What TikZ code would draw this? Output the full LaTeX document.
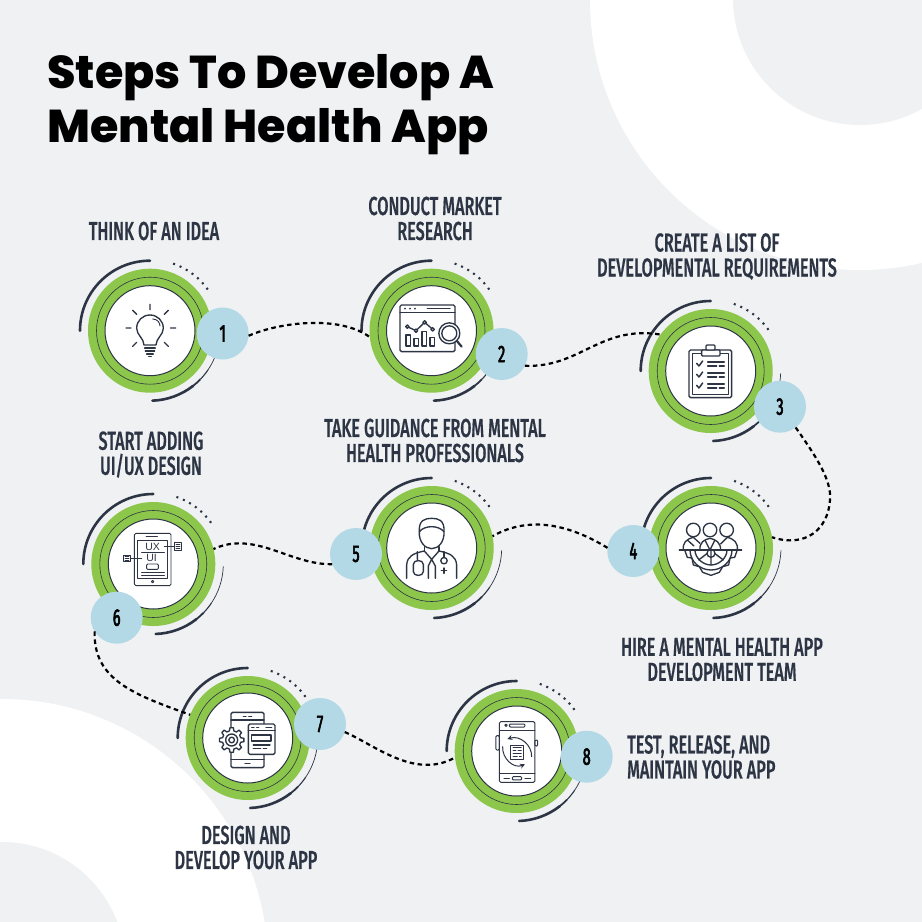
\documentclass[tikz,border=0pt]{standalone}
\usepackage{fontspec}
\usetikzlibrary{arrows.meta}
\setmainfont{Liberation Sans}
\newfontfamily\titlef{Poppins ExtraBold}
\newfontfamily\labf[FakeStretch=0.625,FakeBold=0.5]{Fira Sans Medium}
\newfontfamily\numf[FakeStretch=0.6,FakeBold=2.5]{Fira Sans}
\definecolor{bgc}{HTML}{EFF1F3}
\definecolor{grn}{HTML}{8CC64B}
\definecolor{blu}{HTML}{B3D9E6}
\definecolor{drk}{HTML}{2D3545}
\tikzset{
 greendisc/.style={circle,fill=grn,minimum size=124pt,inner sep=0pt,outer sep=0pt},
 thinring/.style={circle,draw=drk,line width=.6pt,minimum size=107pt,inner sep=0pt,outer sep=0pt},
 whitedisc/.style={circle,fill=white,draw=drk,line width=1pt,minimum size=90pt,inner sep=0pt,outer sep=0pt},
 badge/.style={circle,fill=blu,minimum size=52pt,inner sep=0pt,outer sep=0pt,font=\numf\fontsize{24}{24}\selectfont,text=black},
 conn/.style={line width=2.2pt,black,dash pattern=on 4.5pt off 3.5pt},
 dotarc/.style={line width=2.1pt,drk,dash pattern=on 2pt off 5pt},
 arcline/.style={drk,line cap=round},
 lab/.style={font=\labf\fontsize{26}{25}\selectfont,text=drk,align=center,inner sep=0pt},
 ico/.style={draw=drk,line width=1.35pt,line join=round,line cap=round},
 zoomed/.style={shift={#1},x=.3333pt,y=-.3333pt},
}
\newcommand{\ringset}[3]{%
 \begin{scope}[shift={(#2,#3)}]
  \draw[arcline,line width=2.6pt] (180:70pt) arc[start angle=180,end angle=90,radius=70pt];
  \draw[dotarc] (71:71pt) arc[start angle=71,end angle=34,radius=71pt];
  \draw[arcline,line width=2.6pt] (-88:70pt) arc[start angle=-88,end angle=-52,radius=70pt];
  \draw[drk,line width=1.8pt] (-52:70pt) arc[start angle=-52,end angle=-44,radius=70pt];
  \draw[drk,line width=1.1pt] (-44:70pt) arc[start angle=-44,end angle=-34,radius=70pt];
  \draw[drk,line width=.7pt] (-34:70pt) arc[start angle=-34,end angle=-2,radius=70pt];
 \end{scope}
 \node[greendisc] (c#1) at (#2,#3) {};
 \node[thinring] (r#1) at (#2,#3) {};
 \node[whitedisc] (w#1) at (#2,#3) {};
}
\begin{document}
\begin{tikzpicture}[x=1pt,y=-1pt]
\useasboundingbox (0,0) rectangle (922,922);
\fill[bgc] (0,0) rectangle (922,922);
\begin{scope}
 \clip (0,0) rectangle (922,922);
 \fill[white] (860,0) circle[radius=270pt];
 \fill[bgc] (860,-2) circle[radius=127pt];
 \fill[white] (2,965) circle[radius=266pt];
 \fill[bgc] (2,965) circle[radius=123pt];
\end{scope}

\node[anchor=base west,inner sep=0pt,font=\titlef\fontsize{46}{46}\selectfont,text=black] (title1) at (47,88) {Steps To Develop A};
\node[anchor=base west,inner sep=0pt,font=\titlef\fontsize{46}{46}\selectfont,text=black] (title2) at (47,142) {Mental Health App};

\ringset{1}{150}{330.7}
\ringset{2}{431.5}{330.7}
\ringset{3}{710.7}{371}
\ringset{4}{711}{548}
\ringset{5}{431.7}{548}
\ringset{6}{153.3}{564}
\ringset{7}{247.7}{738}
\ringset{8}{516.7}{751}

% icon 1
\begin{scope}[zoomed={(70,250)}]
 \draw[ico] (222,285) .. controls (222,265) and (200,255) .. (200,235) .. controls (200,212) and (218,195) .. (240,195) .. controls (262,195) and (280,212) .. (280,235) .. controls (280,255) and (258,265) .. (258,285) -- cycle;
 \draw[ico,line width=.9pt] (248,207) .. controls (262,207) and (270,218) .. (270,228);
 \draw[ico] (224,294)--(256,294) (226,303)--(254,303) (230,312)--(250,312) (236,320)--(244,320);
 \draw[ico] (240,163)--(240,179) (168,234)--(183,234) (302,234)--(317,234) (188,181)--(200,193) (295,181)--(283,193) (188,289)--(200,277) (295,289)--(283,277);
\end{scope}
% icon 2
\begin{scope}[zoomed={(350,250)}]
 \draw[ico,rounded corners=1.5pt] (150,165) rectangle (315,305);
 \draw[ico] (150,187)--(315,187) (232,176)--(300,176);
 \fill[drk] (165,176) circle[radius=1pt] (180,176) circle[radius=1pt] (195,176) circle[radius=1pt];
 \draw[ico] (172,230)--(198,242)--(224,217)--(248,238);
 \foreach \px/\py in {172/230,198/242,224/217,248/238}{\filldraw[ico,fill=white] (\px,\py) circle[radius=1.7pt];}
 \draw[ico] (168,255) rectangle (182,288) (192,265) rectangle (206,288) (216,245) rectangle (230,288) (240,262) rectangle (254,288);
 \filldraw[ico,fill=white] (298,250) circle[radius=10.5pt];
 \draw[ico] (298,250) circle[radius=7.5pt];
 \draw[ico,line width=2.2pt] (320,272)--(335,290);
\end{scope}
% icon 3
\begin{scope}[zoomed={(630,290)}]
 \draw[ico,rounded corners=1.5pt] (177,180) rectangle (305,323);
 \draw[ico] (187,190) rectangle (295,313);
 \filldraw[ico,fill=white,rounded corners=1pt] (215,198) rectangle (270,180);
 \filldraw[ico,fill=white,rounded corners=1pt] (228,180) rectangle (255,165);
 \foreach \ly in {0,33,66}{
  \draw[ico,line width=1.5pt] (200,{220+\ly})--(207,{228+\ly})--(218,{213+\ly});
  \draw[ico] (233,{216+\ly})--(283,{216+\ly}) (233,{228+\ly})--(260,{228+\ly}) (268,{228+\ly})--(283,{228+\ly});
 }
\end{scope}
% icon 4
\begin{scope}[zoomed={(600,470)}]
 \draw[ico] (254,240)--(262,262)--(276,264)--(280,285)--(298,290)--(308,307)--(333,316)--(358,307)--(368,290)--(386,285)--(390,264)--(404,262)--(412,240);
 \draw[ico] (285,240) .. controls (285,265) and (310,285) .. (333,285) .. controls (356,285) and (381,265) .. (381,240);
 \draw[ico] (270,240) .. controls (270,275) and (300,300) .. (333,300) .. controls (366,300) and (396,275) .. (396,240);
 \draw[ico] (333,240)--(333,285) (296,270)--(322,250) (370,270)--(344,250);
 \draw[ico] (333,250) circle[radius=4pt];
 \draw[ico] (280,180) circle[radius=6.8pt] (330,180) circle[radius=6.8pt] (380,180) circle[radius=6.8pt];
 \draw[ico] (250,240) .. controls (248,218) and (258,208) .. (280,202) (280,202)--(300,220) (262,210)--(282,228);
 \draw[ico] (300,240) .. controls (298,218) and (312,208) .. (330,205) .. controls (348,208) and (362,218) .. (362,240) (315,210)--(330,240)--(345,210);
 \draw[ico] (412,240) .. controls (414,218) and (404,208) .. (382,202) (382,202)--(362,222);
 \draw[ico] (238,240)--(425,240);
\end{scope}
% icon 5
\begin{scope}[zoomed={(330,470)}]
 \draw[ico] (268,185) .. controls (266,150) and (285,145) .. (305,145) .. controls (325,145) and (344,150) .. (342,185) .. controls (344,215) and (325,236) .. (305,236) .. controls (285,236) and (266,215) .. (268,185) -- cycle;
 \draw[ico] (268,185) .. controls (285,165) and (325,165) .. (342,185);
 \draw[ico] (283,230)--(283,243) (327,230)--(327,243);
 \draw[ico] (230,325)--(230,285) .. controls (232,258) and (250,250) .. (283,243) -- (305,268) -- (327,243) .. controls (360,250) and (378,258) .. (380,285) -- (380,325);
 \draw[ico] (262,245)--(262,268) (250,283) -- (250,305) .. controls (250,320) and (280,320) .. (280,305) -- (280,283) .. controls (280,268) and (250,268) .. (250,283);
 \draw[ico] (295,325)--(295,288)--(305,268)--(316,288)--(316,325);
 \draw[ico] (342,245)--(342,262);
 \draw[ico] (342,272) circle[radius=3.2pt];
 \draw[ico] (342,294)--(342,310) (334,302)--(350,302);
\end{scope}
% icon 6
\begin{scope}[zoomed={(70,490)}]
 \draw[ico,line width=.9pt,rounded corners=1.5pt] (193,130) rectangle (303,287);
 \draw[ico,line width=.9pt] (203,152) rectangle (293,265);
 \draw[ico,line width=.9pt] (228,140)--(262,140);
 \draw[ico,line width=.9pt] (248,275) circle[radius=1.2pt];
 \node[inner sep=0pt,text=drk,font=\fontsize{10.5}{10.5}\selectfont] (ux) at (248,170) {UX};
 \node[inner sep=0pt,text=drk,font=\fontsize{10.5}{10.5}\selectfont] (ui) at (245,205) {UI};
 \draw[ico,line width=.9pt] (215,187)--(283,187) (215,247)--(283,247) (215,255)--(283,255);
 \draw[ico,line width=.9pt,rounded corners=1pt] (230,222) rectangle (265,238);
 \draw[ico,line width=.9pt] (283,170)--(313,170) (182,205)--(215,205);
 \draw[ico,line width=.9pt] (313,158) rectangle (335,180) (160,195) rectangle (182,215);
 \draw[ico,line width=.6pt] (318,164)--(330,164) (318,169)--(330,169) (318,174)--(330,174) (165,200)--(177,200) (165,205)--(177,205) (165,210)--(177,210);
\end{scope}
% icon 7
\begin{scope}[zoomed={(170,665)}]
 \draw[ico,rounded corners=1.5pt] (183,142) rectangle (282,308);
 \draw[ico] (183,165)--(282,165) (183,283)--(282,283) (220,154)--(228,154) (236,154)--(245,154) (225,295)--(240,295);
 \filldraw[ico,fill=white,shift={(185,225)}] (-14:28) \foreach \ga in {0,45,...,315}{ -- ({\ga-8}:37) -- ({\ga+8}:37) -- ({\ga+14}:28) -- ({\ga+31}:28)} -- cycle;
 \draw[ico] (185,225) circle[radius=6pt];
 \draw[ico] (185,225) circle[radius=2.8pt];
 \filldraw[ico,fill=white,rounded corners=1.5pt] (235,177) rectangle (315,268);
 \draw[ico] (235,197)--(315,197) (245,187)--(252,187) (260,187)--(266,187) (288,187)--(305,187);
 \draw[ico] (245,210) rectangle (303,228);
 \draw[ico] (250,240)--(300,240) (250,250)--(272,250) (280,250)--(290,250);
\end{scope}
% icon 8
\begin{scope}[zoomed={(430,675)}]
 \draw[ico,line width=1pt,rounded corners=1.5pt] (208,140) rectangle (315,322);
 \draw[ico,line width=1pt] (208,165)--(315,165) (208,295)--(315,295);
 \draw[ico,line width=1pt,rounded corners=1pt] (198,182) rectangle (208,225) (315,195) rectangle (323,213);
 \draw[ico,line width=1pt] (228,151) circle[radius=1.2pt];
 \draw[ico,line width=1pt,rounded corners=1pt] (238,147) rectangle (285,156);
 \draw[ico,line width=1pt,rounded corners=1pt] (247,305) rectangle (275,315);
 \draw[ico,line width=1pt] (222,310)--(238,310) (285,310)--(302,310);
 \draw[ico,line width=1pt] (243,210) rectangle (280,252);
 \draw[ico,line width=.8pt] (249,218)--(274,218) (249,226)--(258,226) (264,226)--(274,226) (249,234)--(274,234) (249,243)--(262,243) (268,243)--(274,243);
 \draw[ico,line width=1pt,-{Stealth[length=5pt,width=5pt]}] (305,245) .. controls (306,210) and (270,180) .. (232,192);
 \draw[ico,line width=1pt,-{Stealth[length=5pt,width=5pt]}] (218,215) .. controls (216,250) and (250,282) .. (285,268);
\end{scope}

\node[badge] (b1) at (222.7,333.5) {1};
\node[badge] (b2) at (501.7,354) {2};
\node[badge] (b3) at (780,406.7) {3};
\node[badge] (b4) at (633.3,551) {4};
\node[badge] (b5) at (356,554) {5};
\node[badge] (b6) at (116.7,617.7) {6};
\node[badge] (b7) at (320,724) {7};
\node[badge] (b8) at (586.7,756.7) {8};

\draw[conn] (b1.-5) .. controls (280,322) and (340,315) .. (c2.186);
\draw[conn] (b2.-27) .. controls (580,368) and (600,325) .. (c3.144);
\draw[conn] (b3.-53) .. controls (815,455) and (832,480) .. (830,500) .. controls (828,530) and (805,548) .. (c4.10);
\draw[conn] (b4.173) .. controls (570,525) and (530,515) .. (c5.11);
\draw[conn] (b5.203) .. controls (290,565) and (255,530) .. (c6.14);
\draw[conn] (b6.212) .. controls (93,680) and (135,695) .. (c7.158);
\draw[conn] (b7.-18) .. controls (375,745) and (415,780) .. (c8.186);

\node[lab] (t1) at (154,231) {THINK OF AN IDEA};
\node[lab] (t2) at (435,218.5) {CONDUCT MARKET\\[0pt]RESEARCH};
\node[lab] (t3) at (717,256.5) {CREATE A LIST OF\\[0pt]DEVELOPMENTAL REQUIREMENTS};
\node[lab] (t6) at (151,454.5) {START ADDING\\[0pt]UI/UX DESIGN};
\node[lab] (t5) at (435,440.5) {TAKE GUIDANCE FROM MENTAL\\[0pt]HEALTH PROFESSIONALS};
\node[lab] (t4) at (722,659.5) {HIRE A MENTAL HEALTH APP\\[0pt]DEVELOPMENT TEAM};
\node[lab] (t7) at (246,847.5) {DESIGN AND\\[0pt]DEVELOP YOUR APP};
\node[lab,anchor=west,align=left] (t8) at (627,757) {TEST, RELEASE, AND\\[0pt]MAINTAIN YOUR APP};
\end{tikzpicture}
\end{document}
